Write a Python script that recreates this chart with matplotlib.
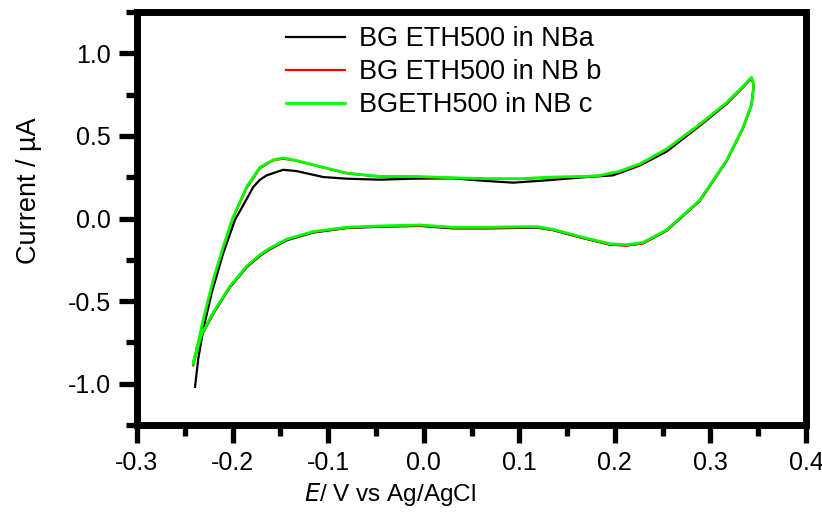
import matplotlib
matplotlib.use("Agg")
import matplotlib.pyplot as plt
from matplotlib.ticker import MultipleLocator

plt.rcParams['font.family'] = ['Liberation Sans', 'DejaVu Sans']

# ---- data (E in V, current in uA) ----
labels = ["BG ETH500 in NBa", "BG ETH500 in NB b", "BGETH500 in NB c"]
colors = ["#000000", "#ff0000", "#00ff00"]

E_a = [-0.2393, -0.2359, -0.2306, -0.2218, -0.2097, -0.1975, -0.1783, -0.1713, -0.1643, -0.1470,
       -0.1330, -0.1051, -0.0806, -0.0458, -0.0113, 0.0305, 0.0658, 0.0936, 0.1286, 0.1704,
       0.1979, 0.2122, 0.2261, 0.2541, 0.2888, 0.3168, 0.3342, 0.3430, 0.3454, 0.3430,
       0.3342, 0.3168, 0.2888, 0.2541, 0.2296, 0.2122, 0.1948, 0.1634, 0.1351, 0.1181,
       0.0658, 0.0305, -0.0040, -0.0458, -0.0806, -0.1156, -0.1434, -0.1626, -0.1713, -0.1853,
       -0.2027, -0.2202, -0.2323, -0.2380]
I_a = [-1.019, -0.849, -0.669, -0.449, -0.209, -0.009, 0.191, 0.235, 0.261, 0.295,
       0.287, 0.251, 0.241, 0.235, 0.241, 0.243, 0.227, 0.217, 0.231, 0.251,
       0.261, 0.291, 0.321, 0.405, 0.561, 0.693, 0.795, 0.849, 0.808, 0.688,
       0.548, 0.347, 0.106, -0.074, -0.150, -0.163, -0.158, -0.114, -0.070, -0.055,
       -0.060, -0.060, -0.045, -0.050, -0.058, -0.085, -0.132, -0.192, -0.226, -0.296,
       -0.416, -0.576, -0.706, -0.790]

E_b = [-0.2411, -0.2359, -0.2306, -0.2202, -0.2097, -0.2001, -0.1853, -0.1713, -0.1574,
       -0.1470, -0.1330, -0.1086, -0.0806, -0.0458, -0.0113, 0.0305, 0.0658, 0.1006, 0.1351,
       0.1704, 0.1843, 0.2052, 0.2261, 0.2541, 0.2888, 0.3168, 0.3342, 0.3430, 0.3454,
       0.3430, 0.3342, 0.3168, 0.2888, 0.2541, 0.2296, 0.2122, 0.1948, 0.1634, 0.1351,
       0.1181, 0.0658, 0.0305, -0.0040, -0.0458, -0.0806, -0.1156, -0.1434, -0.1626, -0.1713,
       -0.1853, -0.2027, -0.2202, -0.2323, -0.2405]
I_b = [-0.889, -0.759, -0.619, -0.379, -0.179, -0.005, 0.183, 0.305, 0.352,
       0.362, 0.349, 0.313, 0.273, 0.253, 0.253, 0.245, 0.240, 0.239, 0.249,
       0.253, 0.259, 0.283, 0.326, 0.416, 0.566, 0.697, 0.797, 0.852, 0.810,
       0.689, 0.549, 0.349, 0.108, -0.072, -0.150, -0.164, -0.158, -0.113, -0.069,
       -0.052, -0.056, -0.056, -0.042, -0.048, -0.056, -0.082, -0.128, -0.188, -0.222,
       -0.292, -0.412, -0.572, -0.702, -0.870]

E_c = [-0.2411, -0.2359, -0.2306, -0.2202, -0.2097, -0.2001, -0.1853, -0.1713, -0.1574,
       -0.1470, -0.1330, -0.1086, -0.0806, -0.0458, -0.0113, 0.0305, 0.0658, 0.1006, 0.1351,
       0.1704, 0.1843, 0.2052, 0.2261, 0.2541, 0.2888, 0.3168, 0.3342, 0.3430, 0.3454,
       0.3430, 0.3342, 0.3168, 0.2888, 0.2541, 0.2296, 0.2122, 0.1948, 0.1634, 0.1351,
       0.1181, 0.0658, 0.0305, -0.0040, -0.0458, -0.0806, -0.1156, -0.1434, -0.1626, -0.1713,
       -0.1853, -0.2027, -0.2202, -0.2323, -0.2405]
I_c = [-0.879, -0.749, -0.609, -0.369, -0.169, 0.001, 0.191, 0.311, 0.355,
       0.367, 0.351, 0.315, 0.275, 0.255, 0.255, 0.247, 0.241, 0.241, 0.251,
       0.255, 0.261, 0.287, 0.331, 0.421, 0.571, 0.701, 0.801, 0.855, 0.812,
       0.691, 0.551, 0.351, 0.111, -0.069, -0.145, -0.159, -0.153, -0.109, -0.065,
       -0.049, -0.053, -0.053, -0.039, -0.045, -0.053, -0.079, -0.125, -0.185, -0.219,
       -0.289, -0.409, -0.569, -0.699, -0.860]

x_ticks = [-0.3, -0.2, -0.1, 0.0, 0.1, 0.2, 0.3, 0.4]
y_ticks = [-1.0, -0.5, 0.0, 0.5, 1.0]

fig = plt.figure(figsize=(8.22, 5.15), dpi=100)
ax = fig.add_axes([137/822, 1 - 425/515, (806-137)/822, (425-12)/515])

ax.plot(E_a, I_a, color=colors[0], lw=1.6, label=labels[0])
ax.plot(E_b, I_b, color=colors[1], lw=1.6, label=labels[1])
ax.plot(E_c, I_c, color=colors[2], lw=2.0, label=labels[2])

ax.set_xlim(-0.3, 0.4)
ax.set_ylim(-1.25, 1.25)
ax.set_xticks(x_ticks)
ax.set_xticklabels([f"{v:.1f}" for v in x_ticks])
ax.set_yticks(y_ticks)
ax.set_yticklabels([f"{v:.1f}" for v in y_ticks])
ax.xaxis.set_minor_locator(MultipleLocator(0.05))
ax.yaxis.set_minor_locator(MultipleLocator(0.25))

for s in ax.spines.values():
    s.set_linewidth(5)
ax.tick_params(which='major', direction='out', length=13, width=3.8, labelsize=18, pad=6,
               top=False, right=False)
ax.tick_params(which='minor', direction='out', length=8, width=3.8, top=False, right=False)

ax.set_xlabel(r"$\it{E}$/ V vs Ag/AgCl", fontsize=17.5)
ax.xaxis.set_label_coords(0.378, -0.135)
ax.set_ylabel("Current / µA", fontsize=19.5)
ax.yaxis.set_label_coords(-0.142, 0.567)

leg = ax.legend(loc='upper left', bbox_to_anchor=(0.222, 0.965), frameon=False, fontsize=19.5,
                handlelength=2.2, handletextpad=0.5, labelspacing=0.25, borderaxespad=0, borderpad=0)

fig.savefig("out.png", dpi=100)
